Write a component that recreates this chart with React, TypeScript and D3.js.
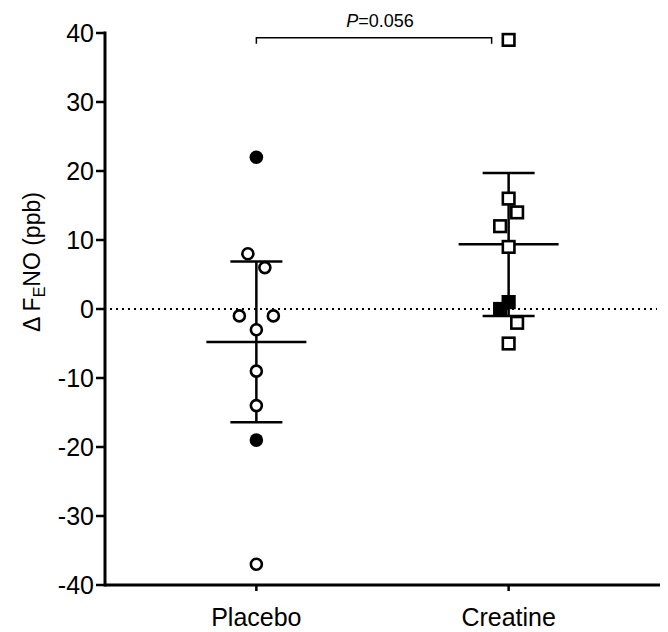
import React from "react";
import * as d3 from "d3";

const categories = ["Placebo", "Creatine"];
const placeboValues = [22, 8, 6, -1, -1, -3, -9, -14, -19, -37];
const placeboFilled = [true, false, false, false, false, false, false, false, true, false];
const placeboJitter = [0, -1, 1, -2, 2, 0, 0, 0, 0, 0];
const creatineValues = [39, 16, 14, 12, 9, 1, 0, -2, -5];
const creatineFilled = [false, false, false, false, false, true, true, false, false];
const creatineJitter = [0, 0, 1, -1, 0, 0, -1, 1, 0];
// mean and error bar ends
const means = [-4.8, 9.4];
const upper = [6.9, 19.7];
const lower = [-16.4, -1.0];
const yTicks = [-40, -30, -20, -10, 0, 10, 20, 30, 40];
const pLabel = "0.056";

const W = 668;
const H = 632;
const left = 105;
const right = 660;
const top = 33;
const bottom = 585;
const FONT = "'Liberation Sans', Arial, Helvetica, sans-serif";

export default function App() {
  const y = d3.scaleLinear().domain([-40, 40]).range([bottom, top]);
  const x = d3.scalePoint<string>().domain(categories).range([left, right]).padding(0.6);
  const jit = 8.5;
  const groups = [
    { cat: categories[0], values: placeboValues, filled: placeboFilled, jitter: placeboJitter, shape: "circle" },
    { cat: categories[1], values: creatineValues, filled: creatineFilled, jitter: creatineJitter, shape: "square" },
  ];
  const bx1 = x(categories[0])!;
  const bx2 = x(categories[1])! - 17;
  const by = y(39.3);
  return (
    <svg width={W} height={H} style={{ position: "absolute", left: 0, top: 0, background: "#fff" }}>
      <rect x={0} y={0} width={W} height={H} fill="#fff" />
      {/* zero dotted line */}
      <line x1={left + 5} x2={right - 3} y1={y(0)} y2={y(0)} stroke="#000" strokeWidth={2} strokeDasharray="2,4" />
      {/* axes */}
      <line x1={left} x2={left} y1={top - 1.5} y2={bottom + 1.5} stroke="#000" strokeWidth={3} />
      <line x1={left} x2={right} y1={bottom} y2={bottom} stroke="#000" strokeWidth={3} />
      {yTicks.map((t) => (
        <g key={t}>
          <line x1={left - 9} x2={left} y1={y(t)} y2={y(t)} stroke="#000" strokeWidth={2.5} />
          <text x={left - 11} y={y(t)} dy="0.35em" textAnchor="end" fontFamily={FONT} fontSize={25} fill="#000">
            {t}
          </text>
        </g>
      ))}
      {categories.map((c) => (
        <g key={c}>
          <line x1={x(c)} x2={x(c)} y1={bottom} y2={bottom + 6} stroke="#000" strokeWidth={2.5} />
          <text x={x(c)} y={626} textAnchor="middle" fontFamily={FONT} fontSize={25} fill="#000">
            {c}
          </text>
        </g>
      ))}
      {/* y label */}
      <text
        transform={`translate(40, ${262}) rotate(-90)`}
        textAnchor="middle"
        fontFamily={FONT}
        fontSize={23}
        fill="#000"
      >
        {"Δ F"}
        <tspan fontSize={16} dy={5}>E</tspan>
        <tspan dy={-5}>NO (ppb)</tspan>
      </text>
      {/* bracket */}
      <path d={`M${bx1},${by + 6}V${by}H${bx2}V${by + 6}`} fill="none" stroke="#000" strokeWidth={1.5} />
      <text x={(bx1 + bx2) / 2 + 6} y={27} textAnchor="middle" fontFamily={FONT} fontSize={18} fill="#000">
        <tspan fontStyle="italic">P</tspan>={pLabel}
      </text>
      {/* error bars */}
      {categories.map((c, i) => {
        const cx = x(c)!;
        return (
          <g key={c} stroke="#000" strokeWidth={2.5}>
            <line x1={cx} x2={cx} y1={y(upper[i])} y2={y(lower[i])} />
            <line x1={cx - 26} x2={cx + 26} y1={y(upper[i])} y2={y(upper[i])} />
            <line x1={cx - 26} x2={cx + 26} y1={y(lower[i])} y2={y(lower[i])} />
            <line x1={cx - 50} x2={cx + 50} y1={y(means[i])} y2={y(means[i])} />
          </g>
        );
      })}
      {/* points */}
      {groups.map((g) =>
        g.values.map((v, j) => {
          const cx = x(g.cat)! + g.jitter[j] * jit;
          const cy = y(v);
          const fill = g.filled[j] ? "#000" : "#fff";
          return g.shape === "circle" ? (
            <circle key={g.cat + j} cx={cx} cy={cy} r={g.filled[j] ? 6.8 : 5.5} fill={fill} stroke="#000" strokeWidth={g.filled[j] ? 0 : 2.6} />
          ) : (
            <rect key={g.cat + j} x={cx - 5.8} y={cy - 5.8} width={11.6} height={11.6} fill={fill} stroke="#000" strokeWidth={2.6} />
          );
        })
      )}
    </svg>
  );
}
